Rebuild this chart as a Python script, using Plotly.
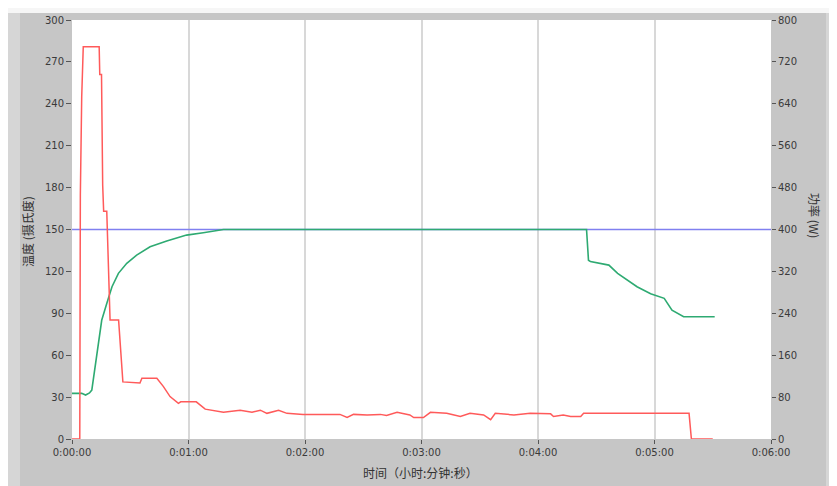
import plotly.graph_objects as go

# Time axis (seconds) and tick labels
tick_seconds = [0, 60, 120, 180, 240, 300, 360]
tick_labels = ["0:00:00", "0:01:00", "0:02:00", "0:03:00", "0:04:00", "0:05:00", "0:06:00"]

# Power (W), red, right axis
power_t = [0, 4, 4.3, 5, 5.8, 14, 14.3, 15.2, 15.8, 16.3, 17.9, 19.6, 24, 26.2, 35, 36, 43.7,
           47.1, 50.5, 54.8, 56, 64, 68.6, 78, 86.6, 92.7, 97, 100.4, 106.4, 110.7, 119, 138,
           141.7, 145, 152, 158.8, 162, 167.4, 174, 176, 181, 184.6, 193, 198.4, 200, 205, 212,
           215.6, 218, 227.6, 236, 246.5, 248, 253, 256.8, 262, 263.5, 317.8, 319, 330]
power_w = [0, 0, 467, 653, 749, 749, 696, 696, 485, 435, 435, 227, 227, 109, 107, 116, 116,
           100, 81, 68, 71, 71, 57, 51, 55, 51, 55, 49, 55, 49, 47, 47,
           41, 47, 46, 47, 45, 51, 46, 41, 41, 51, 49, 44, 43, 49, 46,
           37, 49, 46, 49, 48, 43, 46, 43, 43, 49, 49, 0, 0]

# Temperature (deg C), green, left axis
temp_t = [0, 5, 7, 9, 10.2, 12.7, 15.3, 17.9, 20.6, 23.9, 28.2, 33.3, 40.2, 48.8, 59, 67.6,
          74.6, 78, 265, 266, 267, 276.5, 281, 291, 298, 305, 309, 315, 331]
temp_c = [32.7, 32.7, 31.5, 33, 35, 61, 85, 97, 109, 118.6, 125.8, 131.7, 137.6, 141.7, 146, 147.7,
          149.3, 150, 150, 128, 127, 124.5, 118.6, 109, 104, 100.7, 92.3, 87.5, 87.5]

# Set point (deg C), blue
setpoint_t = [0, 360]
setpoint_c = [150, 150]

left_ticks = [0, 30, 60, 90, 120, 150, 180, 210, 240, 270, 300]
right_ticks = [0, 80, 160, 240, 320, 400, 480, 560, 640, 720, 800]

fig = go.Figure()
fig.add_trace(go.Scatter(x=setpoint_t, y=setpoint_c, mode="lines",
                         line=dict(color="#8080f0", width=1.5), showlegend=False))
fig.add_trace(go.Scatter(x=power_t, y=power_w, mode="lines", yaxis="y2",
                         line=dict(color="#ff5a5a", width=1.5), showlegend=False))
fig.add_trace(go.Scatter(x=temp_t, y=temp_c, mode="lines",
                         line=dict(color="#2eaa72", width=1.6), showlegend=False))

tick_font = dict(family="DejaVu Sans", size=10, color="#3a3a3a")
cjk = "Noto Sans CJK SC"

# page body margin offsets the figure by 8px
OFF = 8
WIN_W, WIN_H = 837, 486
W, H = WIN_W - OFF, WIN_H - OFF
# plot area in window pixels: x 72..771, y 20..439
L = 72 - OFF
T = 20 - OFF
R = W - (771 - OFF)
B = H - (439 - OFF)
pw = W - L - R
ph = H - T - B

def px_x(p):  # window pixel -> paper
    return (p - OFF - L) / pw

def px_y(p):
    return (H - B - (p - OFF)) / ph

fig.update_layout(
    width=W, height=H,
    margin=dict(l=L, r=R, t=T, b=B, autoexpand=False),
    paper_bgcolor="#c6c6c6",
    plot_bgcolor="white",
    xaxis=dict(range=[0, 360], tickvals=tick_seconds, ticktext=tick_labels, automargin=False,
               showgrid=True, gridcolor="#d8d8d8", gridwidth=1.5, zeroline=False,
               ticks="outside", ticklen=4, tickcolor="#555555", tickfont=tick_font,
               showline=False),
    yaxis=dict(range=[0, 300], tickvals=left_ticks, showgrid=False, zeroline=False,
               automargin=False,
               ticks="outside", ticklen=5, tickcolor="#555555", tickfont=tick_font,
               showline=False),
    yaxis2=dict(range=[0, 800], tickvals=right_ticks, overlaying="y", side="right",
                automargin=False,
                showgrid=False, zeroline=False, ticks="outside", ticklen=4,
                tickcolor="#555555", tickfont=tick_font, showline=False),
    shapes=[
        dict(type="rect", xref="paper", yref="paper", x0=px_x(0), x1=px_x(WIN_W + 5),
             y0=px_y(13), y1=px_y(0), fillcolor="#f6f6f6", line=dict(width=0), layer="below"),
        dict(type="rect", xref="paper", yref="paper", x0=px_x(0), x1=px_x(20),
             y0=px_y(WIN_H + 5), y1=px_y(13), fillcolor="#d6d6d6", line=dict(width=0), layer="below"),
        dict(type="rect", xref="paper", yref="paper", x0=px_x(826), x1=px_x(WIN_W + 5),
             y0=px_y(WIN_H + 5), y1=px_y(13), fillcolor="#d6d6d6", line=dict(width=0), layer="below"),
    ],
    annotations=[
        dict(text="温度 (摄氏度)", xref="paper", yref="paper", x=px_x(27), y=px_y(232),
             xanchor="center", yanchor="middle",
             showarrow=False, textangle=-90, font=dict(family=cjk, size=12, color="#333333")),
        dict(text="功率 (W)", xref="paper", yref="paper", x=px_x(815), y=px_y(215),
             xanchor="center", yanchor="middle",
             showarrow=False, textangle=90, font=dict(family=cjk, size=12, color="#333333")),
        dict(text="时间（小时:分钟:秒）", xref="paper", yref="paper", x=px_x(420), y=px_y(472),
             xanchor="center", yanchor="middle",
             showarrow=False, font=dict(family=cjk, size=12, color="#333333")),
    ],
)

fig.write_html("out.html")
